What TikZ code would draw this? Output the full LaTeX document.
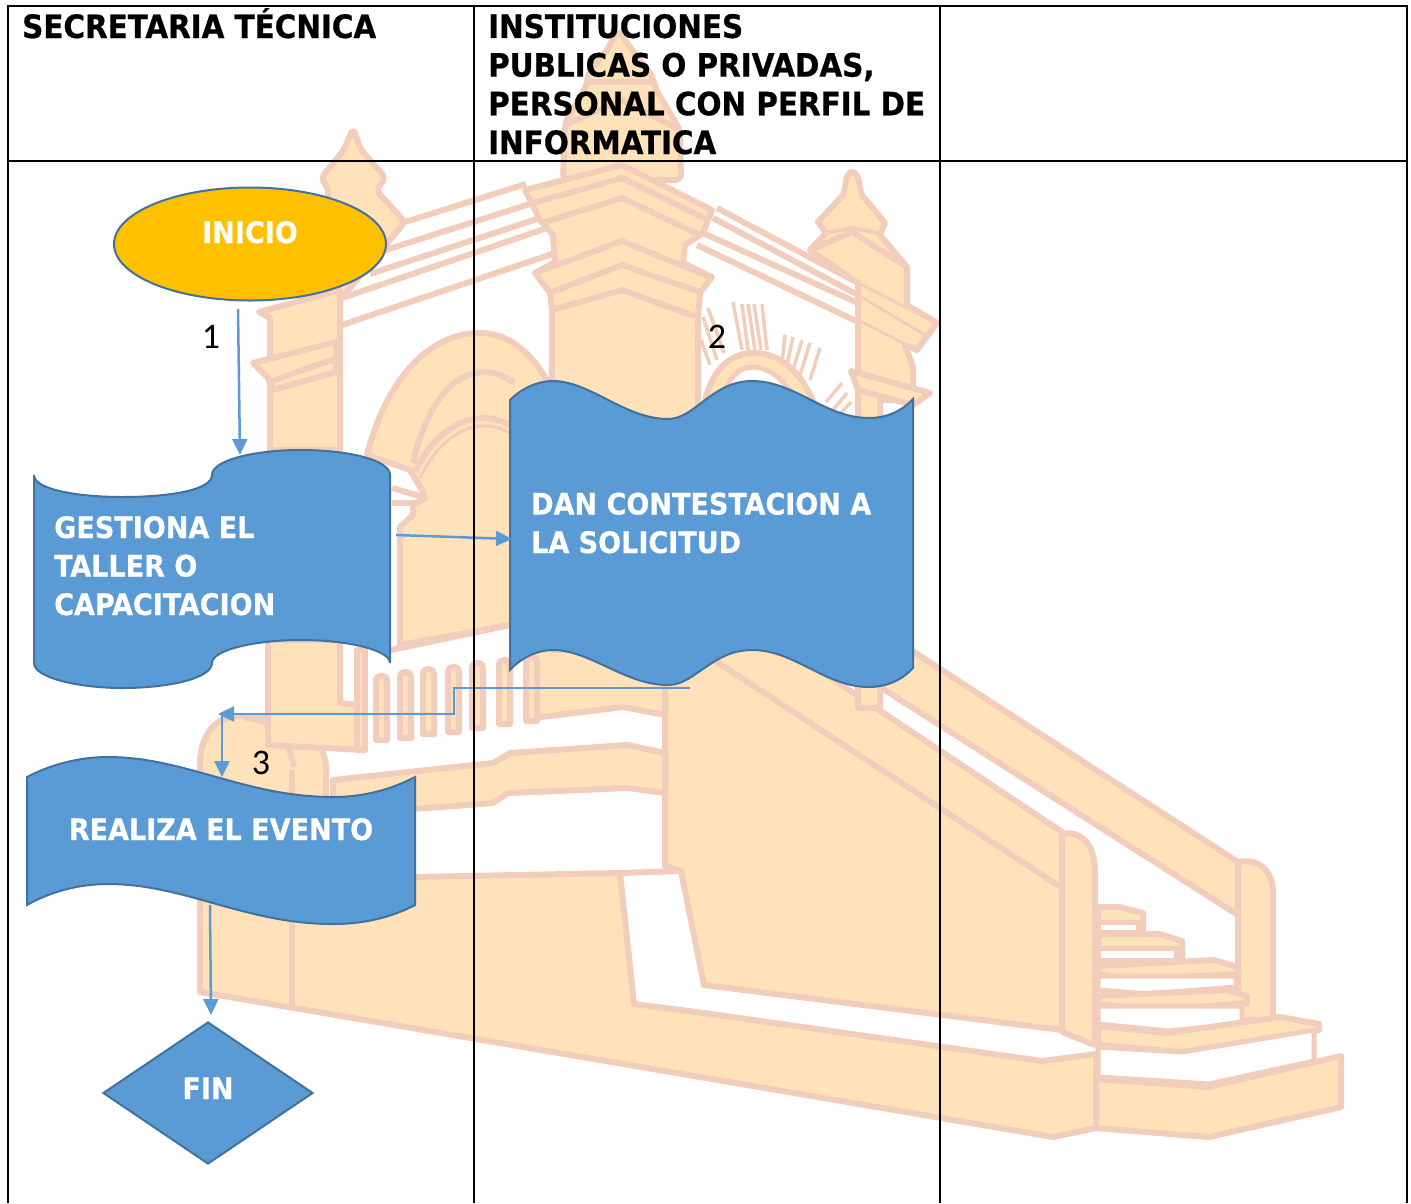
\documentclass[tikz,border=0pt]{standalone}
\usepackage{fontspec}
\usepackage{tikz}
\usetikzlibrary{arrows.meta,shapes.geometric,positioning,calc}
\newfontfamily\titlefont[FakeStretch=1.015,FakeBold=0.6]{DejaVu Sans Condensed Bold}
\newfontfamily\numfont{Carlito}
\definecolor{flowblue}{HTML}{5B9BD5}
\definecolor{flowedge}{HTML}{41719C}
\definecolor{flowgold}{HTML}{FFC000}
\definecolor{wmfill}{HTML}{FFE2B9}
\definecolor{wmline}{HTML}{F3CDBB}
\tikzset{
  wm/.style={draw=wmline,fill=wmfill,line width=6pt,line join=round},
  wmrule/.style={draw=wmline,line width=6pt,line join=round},
  wmgap/.style={draw=wmline,fill=white,line width=5pt,line join=round},
  wmray/.style={draw=wmline,line width=3.5pt},
  flowshape/.style={draw=flowedge,fill=flowblue,line width=2pt},
  flowtext/.style={text=white,inner sep=0pt,align=left,font=\titlefont\fontsize{29.6}{38.5}\selectfont},
  headtext/.style={text=black,inner sep=0pt,align=left,font=\titlefont\fontsize{32.2}{38.7}\selectfont},
  numtext/.style={text=black,inner sep=0pt,font=\numfont\fontsize{36}{40}\selectfont},
  flowarrow/.style={draw=flowblue,line width=2.5pt,-{Triangle[length=16pt,width=15pt]}},
  tablerule/.style={draw=black,line width=2.6pt},
}
\begin{document}
\begin{tikzpicture}[x=1pt,y=-1pt]
    \useasboundingbox (0,0) rectangle (1411,1203);

    % watermark: far rail and steps
    \draw[wm] (880,630) -- (1238,862) -- (1238,915) -- (880,687) -- cycle;
    \draw[wm] (1238,1020) -- (1238,862) .. controls (1258,858) and (1272,870) .. (1273,890) -- (1273,1020) -- cycle;
    \draw[wm] (1098,907) -- (1119,907) -- (1143,913) -- (1143,932) -- (1098,932) -- cycle;
    \draw[wmgap] (1098,922) -- (1138,922) -- (1138,932) -- (1098,932) -- cycle;
    \draw[wm] (1098,934) -- (1159,934) -- (1182,941) -- (1182,960) -- (1098,960) -- cycle;
    \draw[wmgap] (1098,948) -- (1176,948) -- (1176,960) -- (1098,960) -- cycle;
    \draw[wm] (1098,966) -- (1213,960) -- (1238,967) -- (1238,974) -- (1128,980) -- (1098,974) -- cycle;
    \draw[wmgap] (1098,976) -- (1236,976) -- (1236,987) -- (1148,994) -- (1098,990) -- cycle;
    \draw[wm] (1098,996) -- (1227,990) -- (1247,996) -- (1247,1003) -- (1157,1010) -- (1098,1004) -- cycle;
    \draw[wmgap] (1098,1006) -- (1242,1006) -- (1242,1024) -- (1168,1031) -- (1098,1024) -- cycle;
    \draw[wm] (1098,1026) -- (1168,1033) -- (1280,1017) -- (1319,1024) -- (1319,1030) -- (1182,1052) -- (1098,1045) -- cycle;
    \draw[wmgap] (1098,1047) -- (1182,1052) -- (1314,1030) -- (1314,1061) -- (1209,1084) -- (1098,1077) -- cycle;
    \draw[wm] (1096,1079) -- (1209,1087) -- (1341,1056) -- (1341,1107) -- (1209,1137) -- (1096,1128) -- cycle;

    % watermark: wall, near rail and plinth
    \draw[wm] (665,640) -- (720,604) -- (1062,832) -- (1062,1030) -- (704,985) -- (681,871) -- (665,866) -- cycle;
    \draw[wmrule] (714,660) -- (1062,888);
    \draw[wm] (1062,1032) -- (1062,834) .. controls (1082,830) and (1094,845) .. (1095,870) -- (1095,1045) -- cycle;
    \draw[wm] (200,992) -- (1053,1137) -- (1096,1128) -- (1096,1054) -- (1042,1061) -- (704,1013) -- (634,1004)
        -- (620,873) -- (415,877) -- (326,880) -- (326,765) .. controls (322,735) and (295,716) .. (265,716)
        -- (240,716) .. controls (215,716) and (200,735) .. (200,765) -- cycle;
    \draw[wmrule] (292,770) -- (292,1006);
    \draw[wmrule] (620,873) -- (681,871);
    \draw[wmrule] (294,767) .. controls (290,740) and (270,718) .. (245,718);

    % watermark: middle bands and balusters
    \draw[wm] (333,780) -- (493,763) -- (510,753) -- (628,745) -- (665,753) -- (665,793) -- (628,788) -- (508,793) -- (493,803) -- (333,815) -- cycle;
    \draw[wm] (268,640) -- (340,640) -- (340,703) -- (357,705) -- (365,750) -- (268,745) -- cycle;
    \draw[wm] (357,650) -- (365,650) -- (365,750) -- (357,750) -- cycle;
    \draw[wm] (533,640) -- (533,718) -- (623,707) -- (665,715) -- (665,640) -- cycle;
    \foreach \bx/\by/\bz in {373/672/743,397/668/741,420/665/737,445/663/735,469/659/731,496/656/727,523/653/724} {
      \draw[wm] (\bx+3,\bz-3) -- (\bx+3,\by+9) .. controls (\bx+3,\by+2) and (\bx+14,\by+2) .. (\bx+14,\by+9) -- (\bx+14,\bz-3) -- cycle;
    }

    % watermark: towers and roof
    \draw[wmrule] (405,222) -- (526,184);
    \draw[wmrule] (370,255) -- (533,203);
    \draw[wmrule] (342,298) -- (553,226);
    \draw[wmrule] (342,325) -- (555,253);
    \draw[wmrule] (370,274) -- (540,218);
    \draw[wmrule] (717,208) -- (858,283);
    \draw[wmrule] (713,218) -- (858,295);
    \draw[wmrule] (703,233) -- (858,303);
    \draw[wmrule] (697,245) -- (858,322);
    \draw[wm,rounded corners=6pt] (353,128) -- (344,150) -- (321,178) -- (330,192) -- (300,240) -- (300,316) -- (340,300) -- (405,222) -- (376,190) -- (386,178) -- (361,150) -- cycle;
    \draw[wm] (259,312) -- (340,290) -- (340,450) -- (270,450) -- (270,318) -- cycle;
    \draw[wm] (253,363) -- (336,342) -- (336,372) -- (273,390) -- (268,378) -- cycle;
    \draw[wmrule] (272,381) -- (337,358);

    \draw[wm] (367,455) .. controls (385,385) and (425,333) .. (480,333) .. controls (510,333) and (535,355) .. (552,390)
        -- (552,620) -- (510,625) -- (400,645) -- (400,527) -- (413,515) -- (413,505) -- (425,498) -- (422,490) -- (410,470) -- cycle;
    \draw[wmrule] (413,463) .. controls (425,410) and (450,372) .. (485,372) .. controls (495,372) and (505,377) .. (515,383);
    \draw[wmrule] (415,472) .. controls (430,440) and (455,418) .. (485,418) .. controls (495,418) and (505,422) .. (515,428);
    \draw[wmrule,line width=3pt] (420,478) .. controls (435,447) and (458,426) .. (485,426) .. controls (495,426) and (505,430) .. (515,436);
    \draw[wmrule] (392,488) -- (423,497);
    \draw[wmrule] (392,503) -- (420,503);
    \draw[wmrule] (391,650) -- (510,625);

    \draw[wm,rounded corners=6pt] (618,30) -- (604,55) -- (588,73) -- (587,85) -- (565,123) -- (563,180) -- (681,180) -- (680,130) -- (655,88) -- (653,77) -- (632,50) -- cycle;
    \draw[wmrule] (587,82) -- (653,82);
    \draw[wmrule] (565,125) -- (622,100) -- (680,130);
    \draw[wm] (525,190) -- (622,165) -- (712,210) -- (703,233) -- (685,245) -- (683,263) -- (712,277) -- (700,293)
        -- (698,317) -- (698,650) -- (552,650) -- (552,310) -- (550,293) -- (535,273) -- (555,262) -- (553,235) -- (540,220) -- cycle;
    \draw[wmrule] (533,203) -- (622,178) -- (708,220);
    \draw[wmrule] (545,222) -- (622,198) -- (700,235);
    \draw[wmrule] (535,273) -- (622,241) -- (710,277);
    \draw[wmrule] (550,293) -- (622,265) -- (703,293);
    \draw[wmrule] (552,310) -- (622,290) -- (697,317);

    \draw[wm] (852,172) .. controls (845,172) and (846,190) .. (843,195) -- (818,222) -- (826,233) -- (810,250) -- (858,283)
        -- (858,708) -- (880,708) -- (880,400) -- (913,400) -- (913,367) -- (905,345) -- (917,350) -- (937,323) -- (907,305) -- (907,267) -- (880,235) -- (885,223) -- (862,195) .. controls (859,190) and (860,172) .. (852,172) -- cycle;
    \draw[wmrule] (810,250) -- (852,232) -- (907,267);
    \draw[wmrule,line width=4pt] (826,233) -- (852,228) -- (878,233);
    \draw[wmrule,line width=3pt] (858,283) -- (937,323);
    \draw[wmrule,line width=3pt] (858,295) -- (925,335);
    \draw[wmrule,line width=3pt] (858,320) -- (917,350);
    \draw[wm] (851,371) -- (930,393) -- (913,405) -- (858,390) -- cycle;

    \foreach \ra/\rb/\rc/\rd in {733/302/742/350,742/304/748/350,748/304/755/350,754/304/761/350,762/304/767/350,
      785/335/782/363,793/337/787/365,802/340/793/370,810/343/800/375,820/348/810/380,
      708/308/724/353,703/317/717/360,701/340/710/365,842/383/826/402,847/393/833/410,851/402/840/414} {
      \draw[wmray] (\ra,\rb) -- (\rc,\rd);
    }
    \draw[wm] (703,410) .. controls (710,370) and (730,353) .. (753,353) .. controls (780,353) and (800,370) .. (815,405) -- cycle;
    \draw[wmgap] (718,410) .. controls (725,380) and (738,367) .. (753,367) .. controls (772,367) and (790,385) .. (800,410) -- cycle;

    % flow shapes
    \draw[flowshape] (34,475) .. controls (34,490) and (80,497) .. (122,497) .. controls (170,497) and (212,490) .. (212,475)
        .. controls (212,460) and (255,450) .. (301,450) .. controls (348,450) and (390,460) .. (390,475) -- (390,663)
        .. controls (390,650) and (348,640) .. (301,640) .. controls (255,640) and (212,650) .. (212,663)
        .. controls (212,678) and (170,688) .. (122,688) .. controls (80,688) and (34,678) .. (34,663) -- cycle;
    \draw[flowshape] (510,400) .. controls (522,388) and (538,381) .. (553,381) .. controls (590,381) and (625,419) .. (668,419)
        .. controls (695,419) and (712,381) .. (752,381) .. controls (795,381) and (825,418) .. (869,418)
        .. controls (888,418) and (903,410) .. (913,399) -- (913,668)
        .. controls (903,679) and (888,687) .. (869,687) .. controls (825,687) and (795,650) .. (752,650)
        .. controls (712,650) and (695,685) .. (668,685) .. controls (625,685) and (590,650) .. (553,650)
        .. controls (538,650) and (522,657) .. (510,670) -- cycle;
    \draw[flowshape] (27,777) .. controls (50,765) and (78,757) .. (108,757) .. controls (185,757) and (245,797) .. (333,797)
        .. controls (365,797) and (392,789) .. (415,777) -- (415,905)
        .. controls (392,917) and (365,924) .. (333,924) .. controls (245,924) and (185,884) .. (108,884)
        .. controls (78,884) and (50,892) .. (27,905) -- cycle;
    \node [ellipse,draw=flowedge,fill=flowgold,line width=2pt,minimum width=272pt,minimum height=113pt,inner sep=0pt] (inicio) at (250,244) {};
    \node [diamond,flowshape,shape aspect=1.479,minimum width=210pt,minimum height=142pt,inner sep=0pt] (fin) at (208,1093) {};

    \node [flowtext,anchor=base] (inicio-text) at (250,243) {INICIO};
    \node [flowtext,anchor=base west] (gestiona) at (54,615) {GESTIONA EL\\TALLER O\\CAPACITACION};
    \node [flowtext,anchor=base west] (contesta) at (531,553) {DAN CONTESTACION A\\LA SOLICITUD};
    \node [flowtext,anchor=base] (realiza) at (221,840) {REALIZA EL EVENTO};
    \node [flowtext,anchor=base] (fin-text) at (208,1099) {FIN};

    \coordinate (inicio-out) at (238,309);
    \coordinate (gestiona-in) at (240,455);
    \coordinate (gestiona-out) at (396,535);
    \coordinate (contesta-in) at (512,539);
    \coordinate (contesta-out) at (690,688);
    \coordinate (realiza-turn) at (218,714);
    \coordinate (realiza-in) at (222,777);
    \coordinate (realiza-out) at (210,905);
    \coordinate (fin-in) at (211,1015);

    \draw[flowarrow] (inicio-out) -- (gestiona-in);
    \draw[flowarrow] (gestiona-out) -- (contesta-in);
    \draw[flowarrow] (contesta-out) -- (454,688) -- (454,714) -- (realiza-turn);
    \draw[flowarrow] (222,714) -- (realiza-in);
    \draw[flowarrow] (realiza-out) -- (fin-in);

    \node [numtext,anchor=base] (num1) at (211,348) {1};
    \node [numtext,anchor=base] (num2) at (717,348) {2};
    \node [numtext,anchor=base] (num3) at (261,774) {3};

    % table
    \draw[tablerule] (8,1203) -- (8,6) -- (1407,6) -- (1407,1203);
    \draw[tablerule] (8,161) -- (1407,161);
    \draw[tablerule] (474,6) -- (474,1203);
    \draw[tablerule] (940,6) -- (940,1203);

    \node [headtext,anchor=base west] (secretaria) at (22,38) {SECRETARIA TÉCNICA};
    \node [headtext,anchor=base west] (instituciones) at (488,154) {INSTITUCIONES\\PUBLICAS O PRIVADAS,\\PERSONAL CON PERFIL DE\\INFORMATICA};
\end{tikzpicture}
\end{document}
